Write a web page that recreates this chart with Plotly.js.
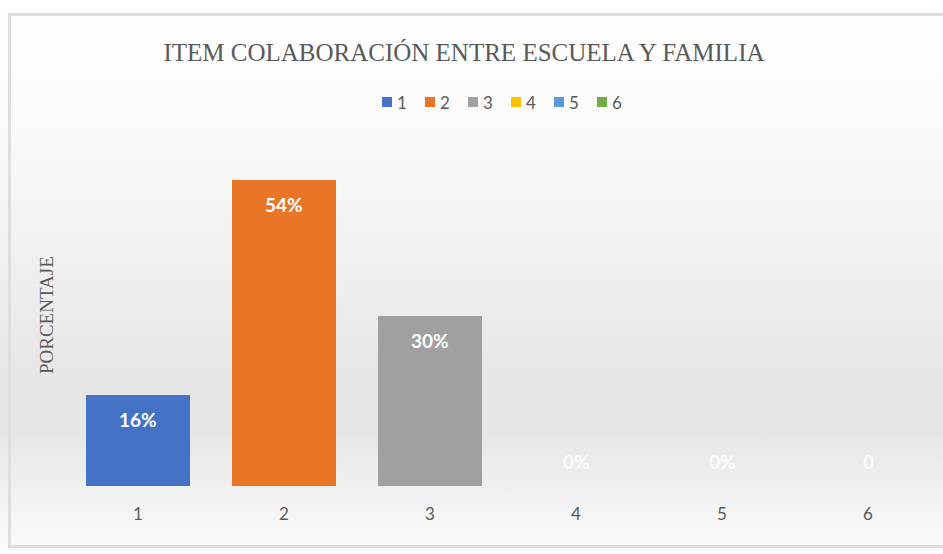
<!DOCTYPE html>
<html>
<head>
<meta charset="utf-8">
<script src="https://cdn.plot.ly/plotly-3.0.1.min.js"></script>
<style>
  html, body { margin: 0; padding: 0; }
  #wrap { position: relative; width: 943px; height: 554px; overflow: hidden;
    background: linear-gradient(to bottom, #ffffff 0%, #fbfbfb 20%, #f1f1f1 45%, #e6e6e6 68%, #e6e6e6 78%, #f2f2f2 90%, #fbfbfb 100%); }
  #frame { position: absolute; left: 8px; top: 13px; right: -3px; bottom: 6px;
    border: 3px solid #dedede; border-right: none; }
  #chart { position: absolute; left: 0; top: 0; width: 943px; height: 554px; }
</style>
</head>
<body>
<div id="wrap">
  <div id="frame"></div>
  <div id="chart"></div>
</div>
<script>
const categories = ["1", "2", "3", "4", "5", "6"];
const values = [0.16, 0.54, 0.30, 0, 0, 0];
const labels = ["16%", "54%", "30%", "0%", "0%", "0"];
const colors = ["#4472C4", "#E97527", "#A0A0A0", "#FFC000", "#5B9BD5", "#70AD47"];

const traces = categories.map((c, i) => ({
  type: "bar",
  name: c,
  x: [c],
  y: [values[i]],
  width: 0.71,
  marker: { color: colors[i] },
  hoverinfo: "none"
}));

const sans = "Lato, 'Open Sans', sans-serif";
const serif = "'Liberation Serif', 'DejaVu Serif', serif";

const annotations = categories.map((c, i) => {
  const pos = values[i] > 0;
  return {
    x: i, y: values[i], xref: "x", yref: "y",
    text: labels[i], showarrow: false,
    yanchor: pos ? "top" : "bottom",
    yshift: pos ? -11 : 11,
    font: { family: sans, size: 19, color: pos ? "#ffffff" : "rgba(255,255,255,0.85)", weight: 700 }
  };
});
annotations.push({
  x: -0.0205, y: 0.503, xref: "paper", yref: "paper",
  text: "PORCENTAJE", textangle: -90, showarrow: false,
  xanchor: "center", yanchor: "middle",
  font: { family: serif, size: 19, color: "#595959" }
});

// Legend built from the category names and colours
const plotL = 65, plotW = 876, plotB = 486, plotH = 340;
const px2x = p => (p - plotL) / plotW;
const px2y = p => (plotB - p) / plotH;
const shapes = [];
categories.forEach((c, i) => {
  const x0 = 382 + 43 * i;
  shapes.push({
    type: "rect", xref: "paper", yref: "paper",
    x0: px2x(x0), x1: px2x(x0 + 10), y0: px2y(107), y1: px2y(97),
    fillcolor: colors[i], line: { width: 0 }
  });
  annotations.push({
    x: px2x(x0 + 13), y: px2y(102), xref: "paper", yref: "paper",
    text: c, showarrow: false, xanchor: "left", yanchor: "middle",
    font: { family: sans, size: 17, color: "#595959" }
  });
});

const layout = {
  width: 943, height: 554,
  paper_bgcolor: "rgba(0,0,0,0)",
  plot_bgcolor: "rgba(0,0,0,0)",
  margin: { l: 65, r: 2, t: 146, b: 68 },
  barmode: "stack",
  title: {
    text: "ITEM COLABORACIÓN ENTRE ESCUELA Y FAMILIA",
    x: 0.492, xanchor: "center", y: 1 - 52 / 554, yref: "container", yanchor: "middle",
    font: { family: serif, size: 25, color: "#595959" }
  },
  showlegend: false,
  xaxis: {
    type: "category", categoryorder: "array", categoryarray: categories,
    range: [-0.5, 5.5],
    showgrid: false, zeroline: false, showline: false, ticks: "",
    ticklabelstandoff: 16,
    tickfont: { family: sans, size: 17, color: "#595959" }
  },
  yaxis: {
    range: [0, 0.6], showgrid: false, zeroline: false, showline: false,
    showticklabels: false, ticks: ""
  },
  shapes: shapes,
  annotations: annotations
};

Plotly.newPlot("chart", traces, layout, { displayModeBar: false, staticPlot: true });
</script>
</body>
</html>
